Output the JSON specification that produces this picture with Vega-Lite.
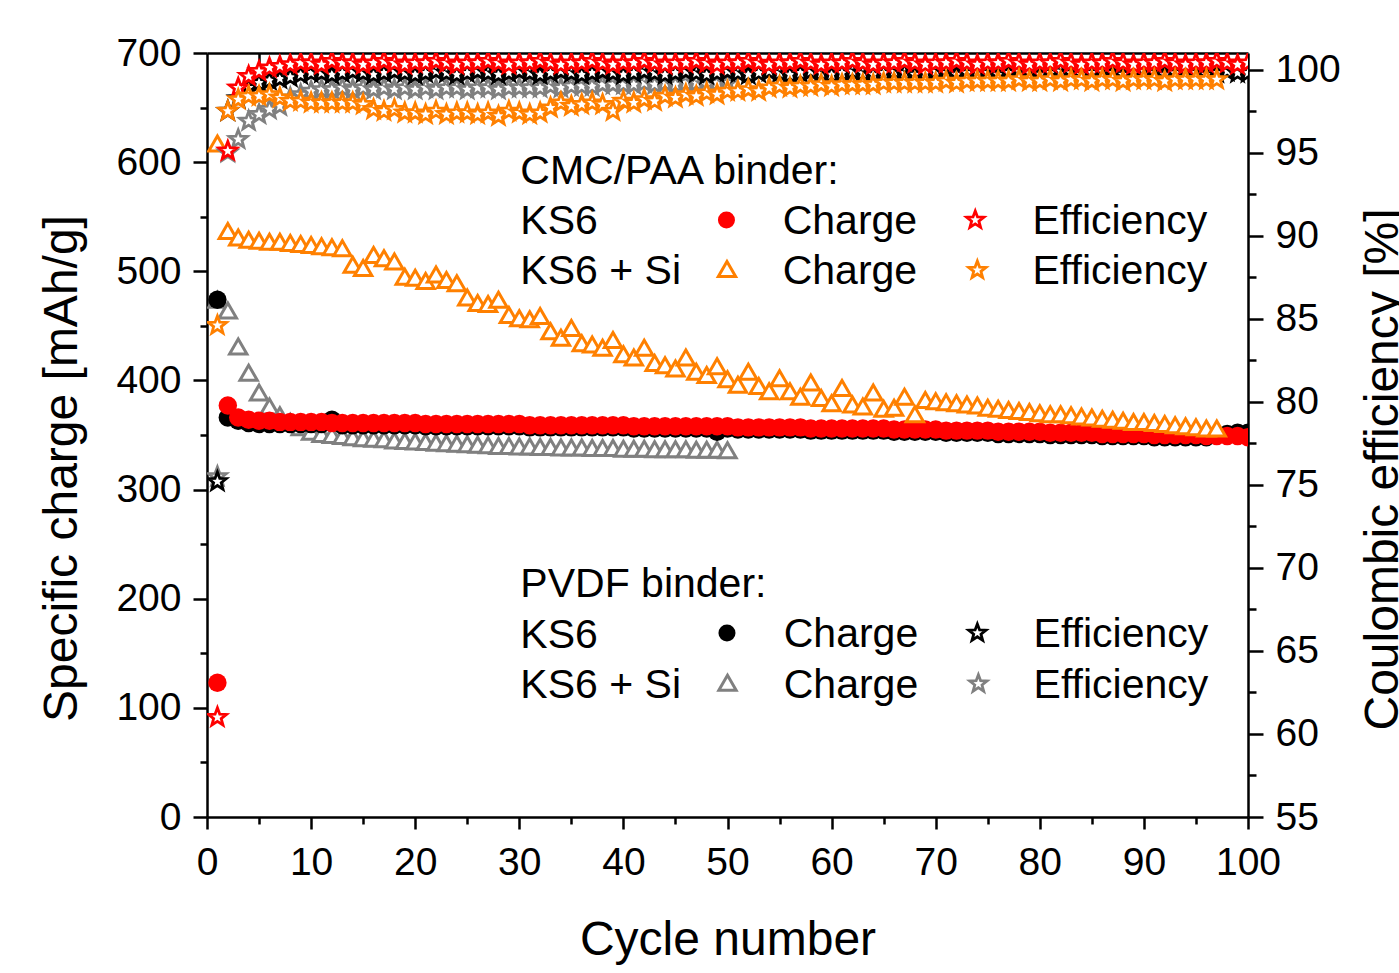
{
"$schema": "https://vega.github.io/schema/vega-lite/v6.json",
"width": 1041, "height": 764,
"autosize": {"type": "none"},
"padding": {"left": 207, "top": 53, "right": 151, "bottom": 156},
"background": "white",
"config": {
  "view": {"stroke": null},
  "font": "Liberation Sans",
  "axis": {"grid": false, "domainColor": "black", "tickColor": "black", "domainWidth": 2.5, "tickWidth": 2.5,
           "labelFontSize": 39, "labelColor": "black", "labelFont": "Liberation Sans",
           "titleFontSize": 48, "titleFontWeight": "normal", "titleColor": "black", "titleFont": "Liberation Sans",
           "zindex": 1, "labelOverlap": false, "labelFlush": false}
},
"datasets": {
"pvdfSi": [
{"cycle":1,"charge":474,"efficiency":75.5},{"cycle":2,"charge":464,"efficiency":95.0},{"cycle":3,"charge":431,"efficiency":95.8},{"cycle":4,"charge":407,"efficiency":96.9},{"cycle":5,"charge":389,"efficiency":97.3},
{"cycle":6,"charge":376,"efficiency":97.6},{"cycle":7,"charge":368,"efficiency":97.8},{"cycle":8,"charge":362,"efficiency":98.3},{"cycle":9,"charge":357,"efficiency":98.5},{"cycle":10,"charge":353,"efficiency":98.7},
{"cycle":11,"charge":351,"efficiency":98.8},{"cycle":12,"charge":350,"efficiency":98.8},{"cycle":13,"charge":349,"efficiency":98.9},{"cycle":14,"charge":348,"efficiency":98.8},{"cycle":15,"charge":347,"efficiency":98.9},
{"cycle":16,"charge":346.5,"efficiency":98.8},{"cycle":17,"charge":346,"efficiency":98.9},{"cycle":18,"charge":345,"efficiency":98.8},{"cycle":19,"charge":344.5,"efficiency":98.9},{"cycle":20,"charge":344,"efficiency":98.8},
{"cycle":21,"charge":343.5,"efficiency":98.9},{"cycle":22,"charge":343,"efficiency":98.8},{"cycle":23,"charge":342.5,"efficiency":98.9},{"cycle":24,"charge":342,"efficiency":98.9},{"cycle":25,"charge":341.5,"efficiency":98.8},
{"cycle":26,"charge":341,"efficiency":98.9},{"cycle":27,"charge":340.5,"efficiency":98.9},{"cycle":28,"charge":340,"efficiency":98.8},{"cycle":29,"charge":340,"efficiency":98.9},{"cycle":30,"charge":339.5,"efficiency":98.9},
{"cycle":31,"charge":339.5,"efficiency":98.9},{"cycle":32,"charge":339,"efficiency":98.9},{"cycle":33,"charge":339,"efficiency":99.0},{"cycle":34,"charge":338.5,"efficiency":98.9},{"cycle":35,"charge":338.5,"efficiency":99.0},
{"cycle":36,"charge":338.5,"efficiency":99.0},{"cycle":37,"charge":338,"efficiency":99.0},{"cycle":38,"charge":338,"efficiency":99.1},{"cycle":39,"charge":338,"efficiency":99.1},{"cycle":40,"charge":337.5,"efficiency":99.1},
{"cycle":41,"charge":337.5,"efficiency":99.1},{"cycle":42,"charge":337.5,"efficiency":99.2},{"cycle":43,"charge":337,"efficiency":99.1},{"cycle":44,"charge":337,"efficiency":99.2},{"cycle":45,"charge":337,"efficiency":99.1},
{"cycle":46,"charge":337,"efficiency":99.2},{"cycle":47,"charge":336.5,"efficiency":99.2},{"cycle":48,"charge":336.5,"efficiency":99.1},{"cycle":49,"charge":336.5,"efficiency":99.2},{"cycle":50,"charge":336,"efficiency":99.2}
],
"pvdfKS6": [
{"cycle":1,"charge":474,"efficiency":75.2},{"cycle":2,"charge":366,"efficiency":97.5},{"cycle":3,"charge":363,"efficiency":98.25},{"cycle":4,"charge":361,"efficiency":98.9},{"cycle":5,"charge":360,"efficiency":99.2},
{"cycle":6,"charge":360,"efficiency":99.35},{"cycle":7,"charge":360,"efficiency":99.45},{"cycle":8,"charge":360,"efficiency":99.55},{"cycle":9,"charge":360,"efficiency":99.7},{"cycle":10,"charge":360,"efficiency":99.8},
{"cycle":11,"charge":360,"efficiency":99.8},{"cycle":12,"charge":364,"efficiency":99.7},{"cycle":13,"charge":359,"efficiency":99.8},{"cycle":14,"charge":359,"efficiency":99.9},{"cycle":15,"charge":359,"efficiency":99.8},
{"cycle":16,"charge":359,"efficiency":99.7},{"cycle":17,"charge":359,"efficiency":99.8},{"cycle":18,"charge":359,"efficiency":99.9},{"cycle":19,"charge":359,"efficiency":99.8},{"cycle":20,"charge":359,"efficiency":99.7},
{"cycle":21,"charge":358,"efficiency":99.8},{"cycle":22,"charge":358,"efficiency":99.9},{"cycle":23,"charge":358,"efficiency":99.8},{"cycle":24,"charge":358,"efficiency":99.7},{"cycle":25,"charge":358,"efficiency":99.8},
{"cycle":26,"charge":358,"efficiency":99.9},{"cycle":27,"charge":358,"efficiency":99.8},{"cycle":28,"charge":358,"efficiency":99.7},{"cycle":29,"charge":358,"efficiency":99.8},{"cycle":30,"charge":358,"efficiency":99.9},
{"cycle":31,"charge":357,"efficiency":99.8},{"cycle":32,"charge":357,"efficiency":99.7},{"cycle":33,"charge":357,"efficiency":99.8},{"cycle":34,"charge":357,"efficiency":99.9},{"cycle":35,"charge":357,"efficiency":99.8},
{"cycle":36,"charge":357,"efficiency":99.7},{"cycle":37,"charge":357,"efficiency":99.8},{"cycle":38,"charge":357,"efficiency":99.9},{"cycle":39,"charge":357,"efficiency":99.8},{"cycle":40,"charge":357,"efficiency":99.7},
{"cycle":41,"charge":356,"efficiency":99.8},{"cycle":42,"charge":356,"efficiency":99.9},{"cycle":43,"charge":356,"efficiency":99.8},{"cycle":44,"charge":356,"efficiency":99.7},{"cycle":45,"charge":356,"efficiency":99.8},
{"cycle":46,"charge":356,"efficiency":99.9},{"cycle":47,"charge":356,"efficiency":99.8},{"cycle":48,"charge":356,"efficiency":99.7},{"cycle":49,"charge":353,"efficiency":99.8},{"cycle":50,"charge":356,"efficiency":99.9},
{"cycle":51,"charge":355,"efficiency":99.8},{"cycle":52,"charge":355,"efficiency":99.7},{"cycle":53,"charge":355,"efficiency":99.8},{"cycle":54,"charge":355,"efficiency":99.9},{"cycle":55,"charge":355,"efficiency":99.8},
{"cycle":56,"charge":355,"efficiency":99.7},{"cycle":57,"charge":355,"efficiency":99.8},{"cycle":58,"charge":354,"efficiency":99.9},{"cycle":59,"charge":354,"efficiency":99.8},{"cycle":60,"charge":354,"efficiency":99.7},
{"cycle":61,"charge":354,"efficiency":99.8},{"cycle":62,"charge":354,"efficiency":99.9},{"cycle":63,"charge":354,"efficiency":99.8},{"cycle":64,"charge":354,"efficiency":99.7},{"cycle":65,"charge":354,"efficiency":99.8},
{"cycle":66,"charge":353,"efficiency":99.9},{"cycle":67,"charge":353,"efficiency":99.8},{"cycle":68,"charge":353,"efficiency":99.7},{"cycle":69,"charge":353,"efficiency":99.8},{"cycle":70,"charge":353,"efficiency":99.9},
{"cycle":71,"charge":352,"efficiency":99.8},{"cycle":72,"charge":352,"efficiency":99.7},{"cycle":73,"charge":352,"efficiency":99.8},{"cycle":74,"charge":352,"efficiency":99.9},{"cycle":75,"charge":352,"efficiency":99.8},
{"cycle":76,"charge":351,"efficiency":99.7},{"cycle":77,"charge":351,"efficiency":99.8},{"cycle":78,"charge":351,"efficiency":99.9},{"cycle":79,"charge":351,"efficiency":99.8},{"cycle":80,"charge":351,"efficiency":99.7},
{"cycle":81,"charge":350,"efficiency":99.8},{"cycle":82,"charge":350,"efficiency":99.9},{"cycle":83,"charge":350,"efficiency":99.8},{"cycle":84,"charge":350,"efficiency":99.7},{"cycle":85,"charge":350,"efficiency":99.8},
{"cycle":86,"charge":349,"efficiency":99.9},{"cycle":87,"charge":349,"efficiency":99.8},{"cycle":88,"charge":349,"efficiency":99.7},{"cycle":89,"charge":349,"efficiency":99.8},{"cycle":90,"charge":349,"efficiency":99.9},
{"cycle":91,"charge":348,"efficiency":99.8},{"cycle":92,"charge":348,"efficiency":99.7},{"cycle":93,"charge":348,"efficiency":99.8},{"cycle":94,"charge":348,"efficiency":99.9},{"cycle":95,"charge":348,"efficiency":99.8},
{"cycle":96,"charge":348,"efficiency":99.7},{"cycle":97,"charge":350,"efficiency":99.8},{"cycle":98,"charge":351,"efficiency":99.9},{"cycle":99,"charge":352,"efficiency":99.8},{"cycle":100,"charge":352,"efficiency":99.8}
],
"cmcKS6": [
{"cycle":1,"charge":123,"efficiency":61.0},{"cycle":2,"charge":377,"efficiency":95.1},{"cycle":3,"charge":366,"efficiency":98.9},{"cycle":4,"charge":364,"efficiency":99.6},{"cycle":5,"charge":363,"efficiency":99.9},
{"cycle":6,"charge":363,"efficiency":100.1},{"cycle":7,"charge":362,"efficiency":100.2},{"cycle":8,"charge":362,"efficiency":100.3},{"cycle":9,"charge":362,"efficiency":100.4},{"cycle":10,"charge":362,"efficiency":100.4},
{"cycle":11,"charge":362,"efficiency":100.3},{"cycle":12,"charge":361,"efficiency":100.5},{"cycle":13,"charge":361,"efficiency":100.4},{"cycle":14,"charge":361,"efficiency":100.4},{"cycle":15,"charge":361,"efficiency":100.3},
{"cycle":16,"charge":361,"efficiency":100.4},{"cycle":17,"charge":361,"efficiency":100.5},{"cycle":18,"charge":361,"efficiency":100.4},{"cycle":19,"charge":361,"efficiency":100.3},{"cycle":20,"charge":361,"efficiency":100.4},
{"cycle":21,"charge":360,"efficiency":100.4},{"cycle":22,"charge":360,"efficiency":100.5},{"cycle":23,"charge":360,"efficiency":100.4},{"cycle":24,"charge":360,"efficiency":100.3},{"cycle":25,"charge":360,"efficiency":100.4},
{"cycle":26,"charge":360,"efficiency":100.4},{"cycle":27,"charge":360,"efficiency":100.5},{"cycle":28,"charge":360,"efficiency":100.4},{"cycle":29,"charge":360,"efficiency":100.3},{"cycle":30,"charge":360,"efficiency":100.4},
{"cycle":31,"charge":359,"efficiency":100.4},{"cycle":32,"charge":359,"efficiency":100.5},{"cycle":33,"charge":359,"efficiency":100.4},{"cycle":34,"charge":359,"efficiency":100.3},{"cycle":35,"charge":359,"efficiency":100.4},
{"cycle":36,"charge":359,"efficiency":100.4},{"cycle":37,"charge":359,"efficiency":100.5},{"cycle":38,"charge":359,"efficiency":100.4},{"cycle":39,"charge":359,"efficiency":100.3},{"cycle":40,"charge":359,"efficiency":100.4},
{"cycle":41,"charge":358,"efficiency":100.4},{"cycle":42,"charge":358,"efficiency":100.5},{"cycle":43,"charge":358,"efficiency":100.4},{"cycle":44,"charge":358,"efficiency":100.3},{"cycle":45,"charge":358,"efficiency":100.4},
{"cycle":46,"charge":358,"efficiency":100.4},{"cycle":47,"charge":358,"efficiency":100.5},{"cycle":48,"charge":358,"efficiency":100.4},{"cycle":49,"charge":358,"efficiency":100.3},{"cycle":50,"charge":358,"efficiency":100.4},
{"cycle":51,"charge":357,"efficiency":100.4},{"cycle":52,"charge":357,"efficiency":100.5},{"cycle":53,"charge":357,"efficiency":100.4},{"cycle":54,"charge":357,"efficiency":100.3},{"cycle":55,"charge":357,"efficiency":100.4},
{"cycle":56,"charge":357,"efficiency":100.4},{"cycle":57,"charge":357,"efficiency":100.5},{"cycle":58,"charge":356,"efficiency":100.4},{"cycle":59,"charge":356,"efficiency":100.3},{"cycle":60,"charge":356,"efficiency":100.4},
{"cycle":61,"charge":356,"efficiency":100.4},{"cycle":62,"charge":356,"efficiency":100.5},{"cycle":63,"charge":356,"efficiency":100.4},{"cycle":64,"charge":356,"efficiency":100.3},{"cycle":65,"charge":356,"efficiency":100.4},
{"cycle":66,"charge":355,"efficiency":100.4},{"cycle":67,"charge":355,"efficiency":100.5},{"cycle":68,"charge":355,"efficiency":100.4},{"cycle":69,"charge":355,"efficiency":100.3},{"cycle":70,"charge":355,"efficiency":100.4},
{"cycle":71,"charge":354,"efficiency":100.4},{"cycle":72,"charge":354,"efficiency":100.5},{"cycle":73,"charge":354,"efficiency":100.4},{"cycle":74,"charge":354,"efficiency":100.3},{"cycle":75,"charge":354,"efficiency":100.4},
{"cycle":76,"charge":353,"efficiency":100.4},{"cycle":77,"charge":353,"efficiency":100.5},{"cycle":78,"charge":353,"efficiency":100.4},{"cycle":79,"charge":353,"efficiency":100.3},{"cycle":80,"charge":353,"efficiency":100.4},
{"cycle":81,"charge":352,"efficiency":100.4},{"cycle":82,"charge":352,"efficiency":100.5},{"cycle":83,"charge":352,"efficiency":100.4},{"cycle":84,"charge":352,"efficiency":100.3},{"cycle":85,"charge":352,"efficiency":100.4},
{"cycle":86,"charge":351,"efficiency":100.4},{"cycle":87,"charge":351,"efficiency":100.5},{"cycle":88,"charge":351,"efficiency":100.4},{"cycle":89,"charge":351,"efficiency":100.3},{"cycle":90,"charge":351,"efficiency":100.4},
{"cycle":91,"charge":350,"efficiency":100.4},{"cycle":92,"charge":350,"efficiency":100.5},{"cycle":93,"charge":350,"efficiency":100.4},{"cycle":94,"charge":350,"efficiency":100.3},{"cycle":95,"charge":350,"efficiency":100.4},
{"cycle":96,"charge":349,"efficiency":100.4},{"cycle":97,"charge":349,"efficiency":100.5},{"cycle":98,"charge":349,"efficiency":100.4},{"cycle":99,"charge":349,"efficiency":100.3},{"cycle":100,"charge":348,"efficiency":100.4}
],
"cmcSi": [
{"cycle":1,"charge":617,"efficiency":84.6},{"cycle":2,"charge":537,"efficiency":97.5},{"cycle":3,"charge":531,"efficiency":98.2},{"cycle":4,"charge":529,"efficiency":98.4},{"cycle":5,"charge":528,"efficiency":98.4},
{"cycle":6,"charge":527,"efficiency":98.5},{"cycle":7,"charge":527,"efficiency":98.3},{"cycle":8,"charge":526,"efficiency":98.1},{"cycle":9,"charge":525,"efficiency":98.1},{"cycle":10,"charge":524,"efficiency":98.0},
{"cycle":11,"charge":523,"efficiency":98.0},{"cycle":12,"charge":522,"efficiency":98.0},{"cycle":13,"charge":521,"efficiency":98.0},{"cycle":14,"charge":506,"efficiency":98.0},{"cycle":15,"charge":503,"efficiency":97.9},
{"cycle":16,"charge":515,"efficiency":97.6},{"cycle":17,"charge":512,"efficiency":97.5},{"cycle":18,"charge":509,"efficiency":97.6},{"cycle":19,"charge":495,"efficiency":97.4},{"cycle":20,"charge":494,"efficiency":97.4},
{"cycle":21,"charge":491,"efficiency":97.3},{"cycle":22,"charge":497,"efficiency":97.5},{"cycle":23,"charge":492,"efficiency":97.3},{"cycle":24,"charge":489,"efficiency":97.4},{"cycle":25,"charge":476,"efficiency":97.4},
{"cycle":26,"charge":471,"efficiency":97.3},{"cycle":27,"charge":470,"efficiency":97.4},{"cycle":28,"charge":474,"efficiency":97.2},{"cycle":29,"charge":460,"efficiency":97.5},{"cycle":30,"charge":457,"efficiency":97.4},
{"cycle":31,"charge":456,"efficiency":97.3},{"cycle":32,"charge":459,"efficiency":97.4},{"cycle":33,"charge":445,"efficiency":97.7},{"cycle":34,"charge":439,"efficiency":98.0},{"cycle":35,"charge":448,"efficiency":97.8},
{"cycle":36,"charge":434,"efficiency":97.9},{"cycle":37,"charge":433,"efficiency":98.0},{"cycle":38,"charge":430,"efficiency":97.9},{"cycle":39,"charge":437,"efficiency":97.5},{"cycle":40,"charge":424,"efficiency":98.1},
{"cycle":41,"charge":421,"efficiency":98.0},{"cycle":42,"charge":430,"efficiency":98.2},{"cycle":43,"charge":416,"efficiency":98.1},{"cycle":44,"charge":414,"efficiency":98.4},{"cycle":45,"charge":411,"efficiency":98.3},
{"cycle":46,"charge":421,"efficiency":98.5},{"cycle":47,"charge":408,"efficiency":98.4},{"cycle":48,"charge":405,"efficiency":98.6},{"cycle":49,"charge":413,"efficiency":98.5},{"cycle":50,"charge":401,"efficiency":98.7},
{"cycle":51,"charge":396,"efficiency":98.7},{"cycle":52,"charge":408,"efficiency":98.8},{"cycle":53,"charge":395,"efficiency":98.7},{"cycle":54,"charge":390,"efficiency":98.9},{"cycle":55,"charge":402,"efficiency":99.0},
{"cycle":56,"charge":390,"efficiency":98.9},{"cycle":57,"charge":385,"efficiency":99.0},{"cycle":58,"charge":398,"efficiency":99.0},{"cycle":59,"charge":384,"efficiency":99.1},{"cycle":60,"charge":379,"efficiency":99.0},
{"cycle":61,"charge":393,"efficiency":99.1},{"cycle":62,"charge":378,"efficiency":99.1},{"cycle":63,"charge":376,"efficiency":99.1},{"cycle":64,"charge":389,"efficiency":99.1},{"cycle":65,"charge":374,"efficiency":99.2},
{"cycle":66,"charge":375,"efficiency":99.2},{"cycle":67,"charge":385,"efficiency":99.2},{"cycle":68,"charge":369,"efficiency":99.2},{"cycle":69,"charge":382,"efficiency":99.2},{"cycle":70,"charge":381,"efficiency":99.2},
{"cycle":71,"charge":380,"efficiency":99.3},{"cycle":72,"charge":379,"efficiency":99.2},{"cycle":73,"charge":378,"efficiency":99.3},{"cycle":74,"charge":377,"efficiency":99.3},{"cycle":75,"charge":375,"efficiency":99.3},
{"cycle":76,"charge":374,"efficiency":99.3},{"cycle":77,"charge":373,"efficiency":99.3},{"cycle":78,"charge":372,"efficiency":99.4},{"cycle":79,"charge":371,"efficiency":99.3},{"cycle":80,"charge":370,"efficiency":99.3},
{"cycle":81,"charge":369,"efficiency":99.4},{"cycle":82,"charge":369,"efficiency":99.3},{"cycle":83,"charge":368,"efficiency":99.4},{"cycle":84,"charge":367,"efficiency":99.4},{"cycle":85,"charge":366,"efficiency":99.3},
{"cycle":86,"charge":365,"efficiency":99.4},{"cycle":87,"charge":364,"efficiency":99.4},{"cycle":88,"charge":363,"efficiency":99.3},{"cycle":89,"charge":362,"efficiency":99.4},{"cycle":90,"charge":362,"efficiency":99.4},
{"cycle":91,"charge":361,"efficiency":99.4},{"cycle":92,"charge":360,"efficiency":99.3},{"cycle":93,"charge":359,"efficiency":99.4},{"cycle":94,"charge":358,"efficiency":99.4},{"cycle":95,"charge":357,"efficiency":99.4},
{"cycle":96,"charge":356,"efficiency":99.4},{"cycle":97,"charge":356,"efficiency":99.4}
]
},
"resolve": {"scale": {"y": "independent"}, "axis": {"x": "independent", "y": "independent"}},
"layer": [
{"data": {"name": "cmcKS6"}, "mark": {"type": "point", "opacity": 0},
 "encoding": {
  "x": {"field": "cycle", "type": "quantitative", "scale": {"domain": [0, 100], "nice": false},
        "axis": {"orient": "bottom", "values": [0,10,20,30,40,50,60,70,80,90,100], "tickSize": 12, "labelPadding": 14, "title": "Cycle number", "titleY": 137, "titleBaseline": "alphabetic"}},
  "y": {"field": "charge", "type": "quantitative", "scale": {"domain": [0, 700], "nice": false, "zero": false},
        "axis": {"orient": "left", "values": [0,100,200,300,400,500,600,700], "tickSize": 14, "labelPadding": 12, "title": "Specific charge [mAh/g]", "titleAngle": 270, "titleX": -131, "titleY": 415, "titleBaseline": "alphabetic", "titleAlign": "center"}}
 }},
{"data": {"name": "cmcKS6"}, "mark": {"type": "point", "opacity": 0},
 "encoding": {
  "x": {"field": "cycle", "type": "quantitative", "scale": {"domain": [0, 100], "nice": false},
        "axis": {"orient": "bottom", "values": [5,15,25,35,45,55,65,75,85,95], "tickSize": 7, "labels": false, "domain": false, "title": null}},
  "y": {"field": "charge", "type": "quantitative", "scale": {"domain": [0, 700], "nice": false, "zero": false},
        "axis": {"orient": "left", "values": [50,150,250,350,450,550,650], "tickSize": 7, "labels": false, "domain": false, "title": null}}
 }},
{"data": {"name": "cmcKS6"}, "mark": {"type": "point", "opacity": 0},
 "encoding": {
  "x": {"field": "cycle", "type": "quantitative", "scale": {"domain": [0, 100], "nice": false},
        "axis": {"orient": "top", "values": [5,10,15,20,25,30,35,40,45,50,55,60,65,70,75,80,85,90,95], "tickSize": -12, "labels": false, "domain": true, "title": null}},
  "y": {"field": "efficiency", "type": "quantitative", "scale": {"domain": [55, 101], "nice": false, "zero": false},
        "axis": {"orient": "right", "values": [55,60,65,70,75,80,85,90,95,100], "tickSize": 15, "labelPadding": 12, "title": "Coulombic efficiency [%]", "titleAngle": 270, "titleX": 149, "titleY": 416, "titleBaseline": "alphabetic", "titleAlign": "center"}}
 }},
{"data": {"name": "cmcKS6"}, "mark": {"type": "point", "opacity": 0},
 "encoding": {
  "x": {"field": "cycle", "type": "quantitative", "scale": {"domain": [0, 100], "nice": false}, "axis": null},
  "y": {"field": "efficiency", "type": "quantitative", "scale": {"domain": [55, 101], "nice": false, "zero": false},
        "axis": {"orient": "right", "values": [57.5,62.5,67.5,72.5,77.5,82.5,87.5,92.5,97.5], "tickSize": 8, "labels": false, "domain": false, "title": null}}
 }},
{"data": {"name": "pvdfSi"}, "mark": {"type": "point", "shape": "triangle-up", "size": 300, "filled": true, "fill": "white", "stroke": "#808080", "strokeWidth": 3, "opacity": 1, "clip": true},
 "encoding": {"x": {"field": "cycle", "type": "quantitative", "scale": {"domain": [0, 100], "nice": false}, "axis": null},
              "y": {"field": "charge", "type": "quantitative", "scale": {"domain": [0, 700], "nice": false, "zero": false}, "axis": null}}},
{"data": {"name": "pvdfKS6"}, "mark": {"type": "point", "shape": "circle", "size": 340, "filled": true, "color": "black", "opacity": 1, "clip": true},
 "encoding": {"x": {"field": "cycle", "type": "quantitative", "scale": {"domain": [0, 100], "nice": false}, "axis": null},
              "y": {"field": "charge", "type": "quantitative", "scale": {"domain": [0, 700], "nice": false, "zero": false}, "axis": null}}},
{"data": {"name": "cmcKS6"}, "mark": {"type": "point", "shape": "circle", "size": 340, "filled": true, "color": "#ff0000", "opacity": 1, "clip": true},
 "encoding": {"x": {"field": "cycle", "type": "quantitative", "scale": {"domain": [0, 100], "nice": false}, "axis": null},
              "y": {"field": "charge", "type": "quantitative", "scale": {"domain": [0, 700], "nice": false, "zero": false}, "axis": null}}},
{"data": {"name": "cmcSi"}, "mark": {"type": "point", "shape": "triangle-up", "size": 300, "filled": true, "fill": "white", "stroke": "#ff8000", "strokeWidth": 3, "opacity": 1, "clip": true},
 "encoding": {"x": {"field": "cycle", "type": "quantitative", "scale": {"domain": [0, 100], "nice": false}, "axis": null},
              "y": {"field": "charge", "type": "quantitative", "scale": {"domain": [0, 700], "nice": false, "zero": false}, "axis": null}}},
{"data": {"name": "pvdfSi"}, "mark": {"type": "point", "shape": "M0,-1L0.247,-0.34L0.951,-0.309L0.399,0.13L0.588,0.809L0,0.42L-0.588,0.809L-0.399,0.13L-0.951,-0.309L-0.247,-0.34Z", "size": 360, "filled": true, "fill": "white", "stroke": "#808080", "strokeWidth": 2.8, "opacity": 1, "clip": true},
 "encoding": {"x": {"field": "cycle", "type": "quantitative", "scale": {"domain": [0, 100], "nice": false}, "axis": null},
              "y": {"field": "efficiency", "type": "quantitative", "scale": {"domain": [55, 101], "nice": false, "zero": false}, "axis": null}}},
{"data": {"name": "pvdfKS6"}, "mark": {"type": "point", "shape": "M0,-1L0.247,-0.34L0.951,-0.309L0.399,0.13L0.588,0.809L0,0.42L-0.588,0.809L-0.399,0.13L-0.951,-0.309L-0.247,-0.34Z", "size": 360, "filled": true, "fill": "white", "stroke": "black", "strokeWidth": 2.8, "opacity": 1, "clip": true},
 "encoding": {"x": {"field": "cycle", "type": "quantitative", "scale": {"domain": [0, 100], "nice": false}, "axis": null},
              "y": {"field": "efficiency", "type": "quantitative", "scale": {"domain": [55, 101], "nice": false, "zero": false}, "axis": null}}},
{"data": {"name": "cmcKS6"}, "mark": {"type": "point", "shape": "M0,-1L0.247,-0.34L0.951,-0.309L0.399,0.13L0.588,0.809L0,0.42L-0.588,0.809L-0.399,0.13L-0.951,-0.309L-0.247,-0.34Z", "size": 360, "filled": true, "fill": "white", "stroke": "#ff0000", "strokeWidth": 2.8, "opacity": 1, "clip": true},
 "encoding": {"x": {"field": "cycle", "type": "quantitative", "scale": {"domain": [0, 100], "nice": false}, "axis": null},
              "y": {"field": "efficiency", "type": "quantitative", "scale": {"domain": [55, 101], "nice": false, "zero": false}, "axis": null}}},
{"data": {"name": "cmcSi"}, "mark": {"type": "point", "shape": "M0,-1L0.247,-0.34L0.951,-0.309L0.399,0.13L0.588,0.809L0,0.42L-0.588,0.809L-0.399,0.13L-0.951,-0.309L-0.247,-0.34Z", "size": 360, "filled": true, "fill": "white", "stroke": "#ff8000", "strokeWidth": 2.8, "opacity": 1, "clip": true},
 "encoding": {"x": {"field": "cycle", "type": "quantitative", "scale": {"domain": [0, 100], "nice": false}, "axis": null},
              "y": {"field": "efficiency", "type": "quantitative", "scale": {"domain": [55, 101], "nice": false, "zero": false}, "axis": null}}},
{"data": {"values": [{}]}, "mark": {"type": "text", "text": ["CMC/PAA binder:", "KS6", "KS6 + Si"], "lineHeight": 50, "fontSize": 41, "align": "left", "baseline": "alphabetic", "color": "black"},
 "encoding": {"x": {"datum": 30.1, "type": "quantitative", "scale": {"domain": [0, 100], "nice": false}, "axis": null},
              "y": {"datum": 580, "type": "quantitative", "scale": {"domain": [0, 700], "nice": false, "zero": false}, "axis": null}}},
{"data": {"values": [{}]}, "mark": {"type": "text", "text": ["Charge", "Charge"], "lineHeight": 50, "fontSize": 41, "align": "left", "baseline": "alphabetic", "color": "black"},
 "encoding": {"x": {"datum": 55.3, "type": "quantitative", "scale": {"domain": [0, 100], "nice": false}, "axis": null},
              "y": {"datum": 534, "type": "quantitative", "scale": {"domain": [0, 700], "nice": false, "zero": false}, "axis": null}}},
{"data": {"values": [{}]}, "mark": {"type": "text", "text": ["Efficiency", "Efficiency"], "lineHeight": 50, "fontSize": 41, "align": "left", "baseline": "alphabetic", "color": "black"},
 "encoding": {"x": {"datum": 79.3, "type": "quantitative", "scale": {"domain": [0, 100], "nice": false}, "axis": null},
              "y": {"datum": 534, "type": "quantitative", "scale": {"domain": [0, 700], "nice": false, "zero": false}, "axis": null}}},
{"data": {"values": [{}]}, "mark": {"type": "text", "text": ["PVDF binder:", "KS6", "KS6 + Si"], "lineHeight": 50.5, "fontSize": 41, "align": "left", "baseline": "alphabetic", "color": "black"},
 "encoding": {"x": {"datum": 30.1, "type": "quantitative", "scale": {"domain": [0, 100], "nice": false}, "axis": null},
              "y": {"datum": 201.5, "type": "quantitative", "scale": {"domain": [0, 700], "nice": false, "zero": false}, "axis": null}}},
{"data": {"values": [{}]}, "mark": {"type": "text", "text": ["Charge", "Charge"], "lineHeight": 50.5, "fontSize": 41, "align": "left", "baseline": "alphabetic", "color": "black"},
 "encoding": {"x": {"datum": 55.4, "type": "quantitative", "scale": {"domain": [0, 100], "nice": false}, "axis": null},
              "y": {"datum": 155.5, "type": "quantitative", "scale": {"domain": [0, 700], "nice": false, "zero": false}, "axis": null}}},
{"data": {"values": [{}]}, "mark": {"type": "text", "text": ["Efficiency", "Efficiency"], "lineHeight": 50.5, "fontSize": 41, "align": "left", "baseline": "alphabetic", "color": "black"},
 "encoding": {"x": {"datum": 79.4, "type": "quantitative", "scale": {"domain": [0, 100], "nice": false}, "axis": null},
              "y": {"datum": 155.5, "type": "quantitative", "scale": {"domain": [0, 700], "nice": false, "zero": false}, "axis": null}}},
{"data": {"values": [{}]}, "mark": {"type": "point", "shape": "circle", "size": 290, "filled": true, "color": "#ff0000", "opacity": 1},
 "encoding": {"x": {"datum": 49.9, "type": "quantitative", "scale": {"domain": [0, 100], "nice": false}, "axis": null},
              "y": {"datum": 547, "type": "quantitative", "scale": {"domain": [0, 700], "nice": false, "zero": false}, "axis": null}}},
{"data": {"values": [{}]}, "mark": {"type": "point", "shape": "triangle-up", "size": 300, "filled": true, "fill": "white", "stroke": "#ff8000", "strokeWidth": 3, "opacity": 1},
 "encoding": {"x": {"datum": 49.95, "type": "quantitative", "scale": {"domain": [0, 100], "nice": false}, "axis": null},
              "y": {"datum": 502, "type": "quantitative", "scale": {"domain": [0, 700], "nice": false, "zero": false}, "axis": null}}},
{"data": {"values": [{}]}, "mark": {"type": "point", "shape": "circle", "size": 290, "filled": true, "color": "black", "opacity": 1},
 "encoding": {"x": {"datum": 49.95, "type": "quantitative", "scale": {"domain": [0, 100], "nice": false}, "axis": null},
              "y": {"datum": 168.6, "type": "quantitative", "scale": {"domain": [0, 700], "nice": false, "zero": false}, "axis": null}}},
{"data": {"values": [{}]}, "mark": {"type": "point", "shape": "triangle-up", "size": 300, "filled": true, "fill": "white", "stroke": "#808080", "strokeWidth": 3, "opacity": 1},
 "encoding": {"x": {"datum": 50.0, "type": "quantitative", "scale": {"domain": [0, 100], "nice": false}, "axis": null},
              "y": {"datum": 123, "type": "quantitative", "scale": {"domain": [0, 700], "nice": false, "zero": false}, "axis": null}}},
{"data": {"values": [{}]}, "mark": {"type": "point", "shape": "M0,-1L0.247,-0.34L0.951,-0.309L0.399,0.13L0.588,0.809L0,0.42L-0.588,0.809L-0.399,0.13L-0.951,-0.309L-0.247,-0.34Z", "size": 330, "filled": true, "fill": "white", "stroke": "#ff0000", "strokeWidth": 2.8, "opacity": 1},
 "encoding": {"x": {"datum": 73.8, "type": "quantitative", "scale": {"domain": [0, 100], "nice": false}, "axis": null},
              "y": {"datum": 547, "type": "quantitative", "scale": {"domain": [0, 700], "nice": false, "zero": false}, "axis": null}}},
{"data": {"values": [{}]}, "mark": {"type": "point", "shape": "M0,-1L0.247,-0.34L0.951,-0.309L0.399,0.13L0.588,0.809L0,0.42L-0.588,0.809L-0.399,0.13L-0.951,-0.309L-0.247,-0.34Z", "size": 330, "filled": true, "fill": "white", "stroke": "#ff8000", "strokeWidth": 2.8, "opacity": 1},
 "encoding": {"x": {"datum": 74.0, "type": "quantitative", "scale": {"domain": [0, 100], "nice": false}, "axis": null},
              "y": {"datum": 501, "type": "quantitative", "scale": {"domain": [0, 700], "nice": false, "zero": false}, "axis": null}}},
{"data": {"values": [{}]}, "mark": {"type": "point", "shape": "M0,-1L0.247,-0.34L0.951,-0.309L0.399,0.13L0.588,0.809L0,0.42L-0.588,0.809L-0.399,0.13L-0.951,-0.309L-0.247,-0.34Z", "size": 330, "filled": true, "fill": "white", "stroke": "black", "strokeWidth": 2.8, "opacity": 1},
 "encoding": {"x": {"datum": 74.0, "type": "quantitative", "scale": {"domain": [0, 100], "nice": false}, "axis": null},
              "y": {"datum": 168.6, "type": "quantitative", "scale": {"domain": [0, 700], "nice": false, "zero": false}, "axis": null}}},
{"data": {"values": [{}]}, "mark": {"type": "point", "shape": "M0,-1L0.247,-0.34L0.951,-0.309L0.399,0.13L0.588,0.809L0,0.42L-0.588,0.809L-0.399,0.13L-0.951,-0.309L-0.247,-0.34Z", "size": 330, "filled": true, "fill": "white", "stroke": "#808080", "strokeWidth": 2.8, "opacity": 1},
 "encoding": {"x": {"datum": 74.1, "type": "quantitative", "scale": {"domain": [0, 100], "nice": false}, "axis": null},
              "y": {"datum": 122, "type": "quantitative", "scale": {"domain": [0, 700], "nice": false, "zero": false}, "axis": null}}}
]
}
